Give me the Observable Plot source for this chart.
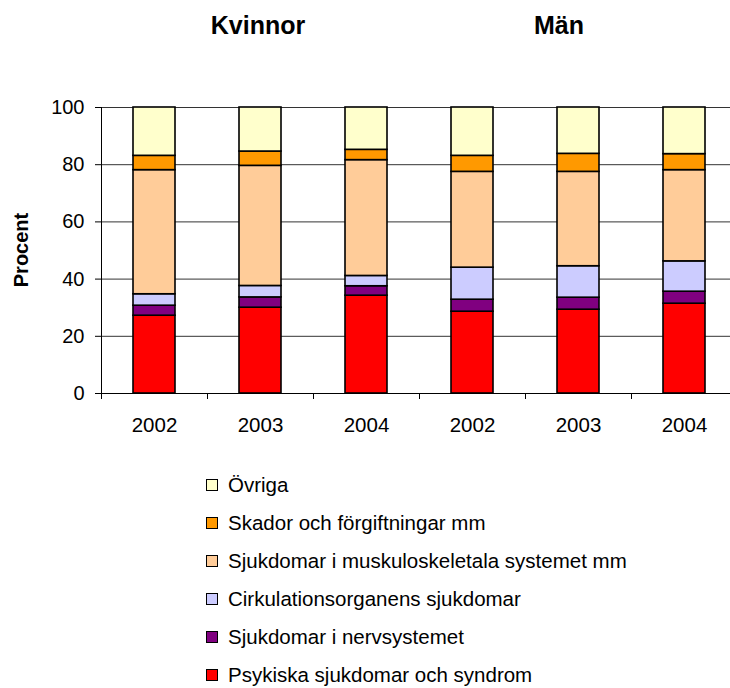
<!DOCTYPE html>
<html>
<head>
<meta charset="utf-8">
<script src="https://cdn.jsdelivr.net/npm/d3@7"></script>
<script src="https://cdn.jsdelivr.net/npm/@observablehq/plot@0.6"></script>
<style>
  html, body { margin: 0; padding: 0; background: #fff; overflow: hidden; }
  #wrap { position: relative; width: 730px; height: 688px; font-family: "Liberation Sans", Arial, sans-serif; color: #000; }
  .title { position: absolute; top: 13px; font-weight: bold; font-size: 25px; line-height: 25px; transform: translateX(-50%); white-space: nowrap; }
  #ylabel { position: absolute; left: 21px; top: 250px; font-weight: bold; font-size: 20px; line-height: 20px; transform: translate(-50%, -50%) rotate(-90deg); white-space: nowrap; }
  #chart { position: absolute; left: 0; top: 0; }
  #legend { position: absolute; left: 206px; top: 466px; }
  .row { display: flex; align-items: center; height: 38px; font-size: 20.5px; line-height: 22px; white-space: nowrap; }
  .sw { width: 10px; height: 10px; border: 1px solid #000; margin-right: 10px; flex: none; }
</style>
</head>
<body>
<div id="wrap">
  <div class="title" style="left:258px">Kvinnor</div>
  <div class="title" style="left:559px">Män</div>
  <div id="ylabel">Procent</div>
  <div id="chart"></div>
  <div id="legend"></div>
</div>
<script>
// Categories (bottom to top in stack order)
const categories = [
  "Psykiska sjukdomar och syndrom",
  "Sjukdomar i nervsystemet",
  "Cirkulationsorganens sjukdomar",
  "Sjukdomar i muskuloskeletala systemet mm",
  "Skador och förgiftningar mm",
  "Övriga"
];
const colors = ["#FF0000", "#800080", "#CCCCFF", "#FFCC99", "#FF9900", "#FFFFCC"];

// Bars: group (Kvinnor/Män) x year
const barKeys = ["K2002", "K2003", "K2004", "M2002", "M2003", "M2004"];
const barYears = ["2002", "2003", "2004", "2002", "2003", "2004"];

// Series values (percent), one array per category, ordered as barKeys
const psykiska     = [27.2, 30.0, 34.2, 28.6, 29.3, 31.4];
const nerv         = [3.5, 3.6, 3.3, 4.2, 4.2, 4.2];
const cirkulation  = [4.0, 4.0, 3.6, 11.2, 11.0, 10.6];
const muskulo      = [43.4, 42.0, 40.5, 33.5, 33.0, 31.9];
const skador       = [5.0, 5.0, 3.6, 5.6, 6.3, 5.6];
const ovriga       = [16.9, 15.4, 14.8, 16.9, 16.2, 16.3];

const yTicks = [0, 20, 40, 60, 80, 100];
const gridTicks = [20, 40, 60, 80, 100];

const series = [psykiska, nerv, cirkulation, muskulo, skador, ovriga];
const data = [];
series.forEach((vals, ci) => {
  vals.forEach((v, bi) => data.push({key: barKeys[bi], cat: categories[ci], value: v}));
});

const width = 730, marginLeft = 101, marginRight = -7;
const step = (width - marginRight - marginLeft) / barKeys.length;

const chart = Plot.plot({
  width,
  height: 440,
  marginTop: 107,
  marginBottom: 47,
  marginLeft,
  marginRight,
  style: {fontFamily: "Liberation Sans, Arial, sans-serif", color: "#000", background: "transparent", overflow: "visible"},
  x: {domain: barKeys, paddingInner: 0.6, paddingOuter: 0.3, label: null},
  y: {domain: [0, 100], label: null},
  color: {domain: categories, range: colors},
  marks: [
    Plot.gridY(gridTicks, {stroke: "#333", strokeOpacity: 1, strokeWidth: 1}),
    Plot.barY(data, {x: "key", y: "value", fill: "cat", stroke: "#000", strokeWidth: 1.6}),
    Plot.frame({anchor: "left", stroke: "#000", strokeWidth: 1}),
    Plot.frame({anchor: "bottom", stroke: "#000", strokeWidth: 1}),
    Plot.axisY({ticks: yTicks, tickSize: 6, tickPadding: 11, fontSize: 20, label: null, stroke: "#000"}),
    Plot.axisX({tickSize: 0, tickPadding: 24, fontSize: 20.5, label: null, tickFormat: (d) => barYears[barKeys.indexOf(d)]}),
    Plot.ruleX(barKeys, {x: d => d, y1: () => 0, y2: () => 0, insetBottom: -6, dx: -step / 2, stroke: "#000", strokeWidth: 1})
  ]
});
document.getElementById("chart").appendChild(chart);

// Legend (top to bottom = reverse stack order)
const legend = document.getElementById("legend");
categories.slice().reverse().forEach((c) => {
  const i = categories.indexOf(c);
  const row = document.createElement("div");
  row.className = "row";
  row.innerHTML = `<span class="sw" style="background:${colors[i]}"></span><span>${c}</span>`;
  legend.appendChild(row);
});
</script>
</body>
</html>
